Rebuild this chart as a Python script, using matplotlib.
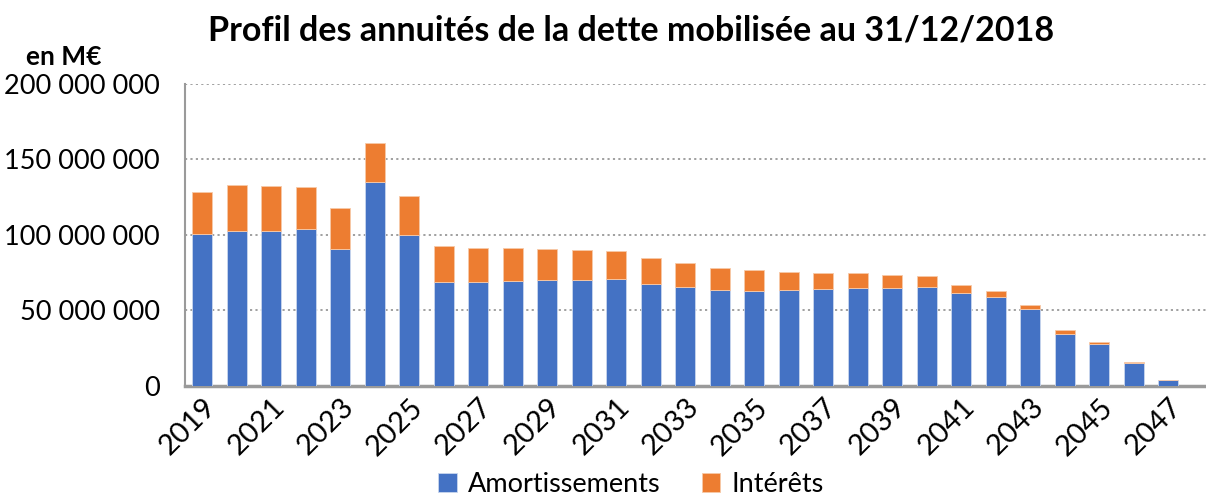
#!/usr/bin/env python3
# coding: utf-8

import matplotlib
matplotlib.use("Agg")
import matplotlib.pyplot as plt
from matplotlib.ticker import FuncFormatter

plt.rcParams['font.family'] = ['Lato', 'DejaVu Sans']

# annees 2019 .. 2047
years = list(range(2019, 2048))

# amortissements (en millions d'euros)
amort = [100.8, 102.4, 102.8, 103.7, 90.4, 134.9, 100.1, 68.5, 68.9, 69.4,
         69.9, 70.3, 70.5, 67.2, 65.2, 63.2, 62.7, 63.6, 63.9, 64.5,
         64.9, 65.6, 61.2, 58.6, 50.6, 34.4, 27.6, 15.1, 3.6]
# annuite totale (amortissement + interets)
total = [128.3, 133.1, 132.5, 131.6, 117.6, 160.8, 125.4, 92.3, 91.5, 90.9,
         90.4, 89.8, 89.3, 84.7, 81.4, 78.0, 76.5, 75.6, 74.9, 74.5,
         73.6, 72.9, 66.9, 62.9, 53.7, 36.7, 28.7, 15.8, 3.8]
interets = [t - a for t, a in zip(total, amort)]

blue = '#4472C4'
orange = '#ED7D31'

fig = plt.figure(figsize=(12.06, 4.95), dpi=100)
W, H = 1206, 495
# zone de trace: x 185 -> 1220 (derniere case vide coupee par le bord), y 84 -> 385.5
ax = fig.add_axes([185 / W, 1 - 385.5 / H, 1035 / W, (385.5 - 84) / H])

xs = list(range(len(years)))
a_vals = [v * 1e6 for v in amort]
i_vals = [v * 1e6 for v in interets]
ax.bar(xs, a_vals, width=0.58, color=blue, edgecolor='#c9d6ee', linewidth=0.6,
       label='Amortissements', zorder=3)
ax.bar(xs, i_vals, width=0.58, bottom=a_vals, color=orange, edgecolor='#f7c9a8',
       linewidth=0.6, label='Intérêts', zorder=3)

ax.set_xlim(-0.5, 29.5)
ax.set_ylim(0, 200e6)
ax.set_yticks([0, 50e6, 100e6, 150e6, 200e6])
ax.yaxis.set_major_formatter(FuncFormatter(lambda v, p: '{:,.0f}'.format(v).replace(',', ' ')))
ax.grid(axis='y', linestyle=(0, (1.2, 1.8)), color='#999999', linewidth=1.3, zorder=0)

ax.set_xticks(xs[::2])
ax.set_xticklabels([str(y) for y in years[::2]], rotation=45, ha='right',
                   rotation_mode='anchor', fontsize=21)
ax.tick_params(axis='x', length=0, pad=6)
ax.tick_params(axis='y', length=0, pad=18, labelsize=19.5)

for s in ['top', 'right']:
    ax.spines[s].set_visible(False)
ax.spines['left'].set_color('#9a9a9a')
ax.spines['left'].set_linewidth(1.5)
ax.spines['bottom'].set_color('#9a9a9a')
ax.spines['bottom'].set_linewidth(2.5)

fig.text(631 / W, 1 - 30 / H, 'Profil des annuités de la dette mobilisée au 31/12/2018',
         ha='center', va='center', fontsize=24.5, fontweight='bold')
fig.text(64 / W, 1 - 57 / H, 'en M€', ha='center', va='center', fontsize=19,
         fontweight='bold')

fig.legend(loc='center', bbox_to_anchor=(631 / W, 1 - 484 / H), ncol=2, frameon=False,
           fontsize=19.5, handlelength=0.7, handleheight=0.7, handletextpad=0.4,
           columnspacing=1.5, borderpad=0)

fig.savefig('out.png', dpi=100)
